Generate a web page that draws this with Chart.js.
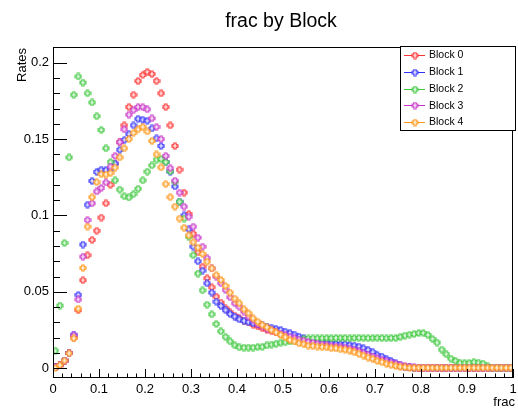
<!DOCTYPE html>
<html>
<head>
<meta charset="utf-8">
<script src="https://cdn.jsdelivr.net/npm/chart.js@4"></script>
<style>
  html, body { margin: 0; padding: 0; background: #fff; }
</style>
</head>
<body>
<canvas id="frac-chart" width="518" height="412"></canvas>
<script>
// Histogram bins: 100 bins of width 0.01 on [0, 1], marker at bin centre
const nBins = 100;
const frac = Array.from({ length: nBins }, (_, i) => +(0.005 + 0.01 * i).toFixed(3));

const seriesNames = ['Block 0', 'Block 1', 'Block 2', 'Block 3', 'Block 4'];

const block0 = [
  0.0005, 0.002, 0.005, 0.010, 0.020, 0.038, 0.0576, 0.074, 0.084, 0.090,
  0.0986, 0.108, 0.120, 0.134, 0.148, 0.159, 0.171, 0.179, 0.188, 0.192,
  0.194, 0.1926, 0.188, 0.180, 0.171, 0.159, 0.1455, 0.130, 0.115, 0.101,
  0.088, 0.076, 0.0665, 0.0589, 0.053, 0.0469, 0.043, 0.0393, 0.0366, 0.0344,
  0.0327, 0.0312, 0.030, 0.0285, 0.0274, 0.0262, 0.0252, 0.0243, 0.0234, 0.0226,
  0.0218, 0.021, 0.0202, 0.0195, 0.0188, 0.0181, 0.0175, 0.017, 0.0165, 0.016,
  0.0155, 0.015, 0.0146, 0.0142, 0.0136, 0.0128, 0.0118, 0.0106, 0.0094, 0.008,
  0.0066, 0.0054, 0.0042, 0.0032, 0.0022, 0.0014, 0.0008, 0.0005, 0.0003, 0.0003,
  0.0003, 0.0003, 0.0003, 0.0003, 0.0003, 0.0003, 0.0003, 0.0003, 0.0003, 0.0003,
  0.0003, 0.0003, 0.0003, 0.0003, 0.0003, 0.0003, 0.0003, 0.0003, 0.0003, 0.0003
];
const block1 = [
  0.0005, 0.002, 0.005, 0.010, 0.022, 0.048, 0.081, 0.107, 0.1226, 0.1285,
  0.130, 0.1297, 0.1305, 0.134, 0.143, 0.1494, 0.1533, 0.159, 0.1633, 0.1627,
  0.162, 0.157, 0.1505, 0.1455, 0.135, 0.1287, 0.119, 0.109, 0.100, 0.091,
  0.0796, 0.070, 0.0639, 0.0556, 0.0495, 0.0436, 0.0408, 0.038, 0.0355, 0.0338,
  0.032, 0.031, 0.0302, 0.0295, 0.0288, 0.028, 0.0273, 0.0266, 0.0258, 0.0251,
  0.024, 0.023, 0.022, 0.0207, 0.0197, 0.0185, 0.018, 0.0174, 0.017, 0.0168,
  0.0163, 0.0159, 0.0157, 0.0157, 0.0152, 0.0148, 0.0142, 0.0131, 0.012, 0.0105,
  0.0087, 0.0076, 0.0061, 0.0048, 0.0033, 0.0022, 0.0011, 0.0005, 0.0003, 0.0003,
  0.0003, 0.0003, 0.0003, 0.0003, 0.0003, 0.0003, 0.0003, 0.0003, 0.0003, 0.0003,
  0.0003, 0.0003, 0.0003, 0.0003, 0.0003, 0.0003, 0.0003, 0.0003, 0.0003, 0.0003
];
const block2 = [
  0.0115, 0.041, 0.082, 0.138, 0.179, 0.191, 0.187, 0.180, 0.174, 0.165,
  0.156, 0.144, 0.135, 0.123, 0.117, 0.1126, 0.1118, 0.114, 0.1175, 0.123,
  0.1287, 0.1328, 0.1365, 0.137, 0.135, 0.129, 0.122, 0.109, 0.098, 0.086,
  0.074, 0.062, 0.051, 0.0416, 0.0353, 0.029, 0.0242, 0.0205, 0.0176, 0.015,
  0.0137, 0.0135, 0.0135, 0.0135, 0.0139, 0.014, 0.015, 0.0155, 0.016, 0.0168,
  0.017, 0.0175, 0.018, 0.0187, 0.019, 0.0195, 0.0196, 0.0197, 0.0196, 0.0198,
  0.0197, 0.0198, 0.0199, 0.0198, 0.0197, 0.0198, 0.0199, 0.0198, 0.0197, 0.0198,
  0.0199, 0.0198, 0.0197, 0.0198, 0.0198, 0.0205, 0.0214, 0.022, 0.0224, 0.0231,
  0.0231, 0.0218, 0.0192, 0.0168, 0.0122, 0.0092, 0.0063, 0.0048, 0.0035, 0.0035,
  0.0035, 0.004, 0.0037, 0.003, 0.0013, 0.0004, 0.0003, 0.0003, 0.0003, 0.0003
];
const block3 = [
  0.0005, 0.002, 0.005, 0.010, 0.0215, 0.045, 0.073, 0.097, 0.108, 0.1157,
  0.118, 0.1216, 0.132, 0.139, 0.148, 0.1564, 0.166, 0.169, 0.171, 0.171,
  0.1695, 0.1636, 0.158, 0.150, 0.139, 0.131, 0.1228, 0.115, 0.1058, 0.0992,
  0.0927, 0.0855, 0.0796, 0.072, 0.0654, 0.060, 0.0556, 0.0513, 0.0465, 0.0425,
  0.0403, 0.0371, 0.0338, 0.0316, 0.029, 0.0275, 0.026, 0.0248, 0.0236, 0.0226,
  0.0216, 0.0206, 0.0196, 0.0187, 0.018, 0.0172, 0.0166, 0.016, 0.0155, 0.015,
  0.0146, 0.0142, 0.0138, 0.0134, 0.0128, 0.012, 0.011, 0.0099, 0.0087, 0.0076,
  0.0064, 0.0054, 0.0045, 0.0037, 0.003, 0.0022, 0.0014, 0.0008, 0.0005, 0.0003,
  0.0003, 0.0003, 0.0003, 0.0003, 0.0003, 0.0003, 0.0003, 0.0003, 0.0003, 0.0003,
  0.0003, 0.0003, 0.0003, 0.0003, 0.0003, 0.0003, 0.0003, 0.0003, 0.0003, 0.0003
];
const block4 = [
  0.0002, 0.002, 0.005, 0.0098, 0.0196, 0.039, 0.0656, 0.0927, 0.112, 0.1218,
  0.127, 0.1268, 0.1278, 0.1314, 0.138, 0.144, 0.150, 0.154, 0.1564, 0.158,
  0.155, 0.1488, 0.140, 0.1315, 0.1206, 0.112, 0.1058, 0.098, 0.092, 0.087,
  0.0825, 0.079, 0.0748, 0.0698, 0.0654, 0.061, 0.0578, 0.0539, 0.0495, 0.0456,
  0.0425, 0.0386, 0.036, 0.0327, 0.0305, 0.0283, 0.0268, 0.025, 0.0235, 0.0218,
  0.0203, 0.0185, 0.0175, 0.0163, 0.0157, 0.0148, 0.0146, 0.0142, 0.0139, 0.0137,
  0.0131, 0.013, 0.0124, 0.0122, 0.0115, 0.0105, 0.0094, 0.0083, 0.007, 0.0061,
  0.0048, 0.004, 0.0029, 0.0022, 0.0015, 0.001, 0.0006, 0.0003, 0.0003, 0.0003,
  0.0003, 0.0003, 0.0003, 0.0003, 0.0003, 0.0003, 0.0003, 0.0003, 0.0003, 0.0003,
  0.0003, 0.0003, 0.0003, 0.0003, 0.0003, 0.0003, 0.0003, 0.0003, 0.0003, 0.0003
];

const xTickValues = [0, 0.1, 0.2, 0.3, 0.4, 0.5, 0.6, 0.7, 0.8, 0.9, 1];
const xTickLabels = ['0', '0.1', '0.2', '0.3', '0.4', '0.5', '0.6', '0.7', '0.8', '0.9', '1'];
const yTickValues = [0, 0.05, 0.1, 0.15, 0.2];
const yTickLabels = ['0', '0.05', '0.1', '0.15', '0.2'];

const colors = ['rgb(255,50,50)', 'rgb(50,50,255)', 'rgb(60,200,60)', 'rgb(200,50,200)', 'rgb(255,150,20)'];
const allBlocks = [block0, block1, block2, block3, block4];

const FONT = '"Liberation Sans", Arial, Helvetica, sans-serif';

// ROOT-like open cross marker, about 6-7 px across with a hollow centre
function openCross(color) {
  const c = document.createElement('canvas');
  c.width = 8;
  c.height = 8;
  const g = c.getContext('2d');
  const h = 1.15, L = 2.95, o = 4;
  const pts = [[-h, -L], [h, -L], [h, -h], [L, -h], [L, h], [h, h],
               [h, L], [-h, L], [-h, h], [-L, h], [-L, -h], [-h, -h]];
  g.beginPath();
  pts.forEach((p, i) => i ? g.lineTo(o + p[0], o + p[1]) : g.moveTo(o + p[0], o + p[1]));
  g.closePath();
  g.fillStyle = '#fff';
  g.fill();
  g.strokeStyle = color;
  g.lineWidth = 1.1;
  g.stroke();
  return c;
}
const markers = colors.map(openCross);

// frame, inward ticks, labels, titles and legend in ROOT style
const rootFrame = {
  id: 'rootFrame',
  afterDraw(chart) {
    const ctx = chart.ctx;
    const a = chart.chartArea;
    const xs = chart.scales.x;
    const ys = chart.scales.y;
    ctx.save();
    ctx.strokeStyle = '#000';
    ctx.lineWidth = 1;
    ctx.strokeRect(Math.round(a.left) + 0.5, Math.round(a.top) + 0.5,
      Math.round(a.right - a.left) - 1, Math.round(a.bottom - a.top) - 1);

    // y ticks
    ctx.beginPath();
    for (let i = 0; i < yTickValues.length; i++) {
      for (let k = 0; k < 5; k++) {
        const v = yTickValues[i] + k * 0.01;
        if (v > ys.max) continue;
        const py = Math.round(ys.getPixelForValue(v)) + 0.5;
        const len = k === 0 ? 14 : 7;
        ctx.moveTo(a.left, py);
        ctx.lineTo(a.left + len, py);
      }
    }
    // x ticks
    for (let i = 0; i < xTickValues.length; i++) {
      for (let k = 0; k < 5; k++) {
        const v = xTickValues[i] + k * 0.02;
        if (v > xs.max + 1e-9) continue;
        const px = Math.round(xs.getPixelForValue(v)) + 0.5;
        const len = k === 0 ? 9 : 4.5;
        ctx.moveTo(px, a.bottom);
        ctx.lineTo(px, a.bottom - len);
      }
    }
    ctx.stroke();

    ctx.fillStyle = '#000';
    ctx.font = '13px ' + FONT;
    ctx.textAlign = 'right';
    ctx.textBaseline = 'middle';
    yTickValues.forEach((v, i) => {
      ctx.fillText(yTickLabels[i], a.left - 4, ys.getPixelForValue(v));
    });
    ctx.textAlign = 'center';
    ctx.textBaseline = 'alphabetic';
    xTickValues.forEach((v, i) => {
      ctx.fillText(xTickLabels[i], xs.getPixelForValue(v), a.bottom + 14.5);
    });

    // axis titles
    ctx.textAlign = 'right';
    ctx.fillText('frac', 515, 406);
    ctx.save();
    ctx.translate(26, 48);
    ctx.rotate(-Math.PI / 2);
    ctx.fillText('Rates', 0, 0);
    ctx.restore();

    // title
    ctx.font = '19.5px ' + FONT;
    ctx.textAlign = 'center';
    ctx.fillText('frac by Block', 281, 26.5);

    // legend
    ctx.fillStyle = '#fff';
    ctx.fillRect(400.5, 46.5, 115, 84);
    ctx.strokeRect(400.5, 46.5, 115, 84);
    ctx.font = '10.5px ' + FONT;
    ctx.textAlign = 'left';
    ctx.textBaseline = 'middle';
    seriesNames.forEach((name, i) => {
      const cy = 55 + i * 16.75;
      ctx.strokeStyle = colors[i];
      ctx.beginPath();
      ctx.moveTo(404, Math.round(cy) + 0.5);
      ctx.lineTo(425, Math.round(cy) + 0.5);
      ctx.stroke();
      ctx.drawImage(markers[i], 411, Math.round(cy) - 3.5);
      ctx.fillStyle = '#000';
      ctx.fillText(name, 429, cy + 0.5);
    });
    ctx.restore();
  }
};

const ctx = document.getElementById('frac-chart').getContext('2d');
const chart = new Chart(ctx, {
  type: 'scatter',
  data: {
    datasets: allBlocks.map((vals, i) => ({
      label: seriesNames[i],
      data: frac.map((x, j) => ({ x: x, y: vals[j] })),
      pointStyle: markers[i],
      pointRadius: 3,
      borderColor: colors[i],
      backgroundColor: colors[i],
      showLine: false,
      order: 4 - i
    }))
  },
  options: {
    responsive: false,
    animation: false,
    events: [],
    layout: { padding: { left: 53, right: 2, top: 47, bottom: 34 } },
    scales: {
      x: { type: 'linear', min: 0, max: 1, display: false },
      y: { type: 'linear', min: -0.0064, max: 0.2103, display: false }
    },
    plugins: {
      legend: { display: false },
      tooltip: { enabled: false },
      title: { display: false }
    }
  },
  plugins: [rootFrame]
});
</script>
</body>
</html>
